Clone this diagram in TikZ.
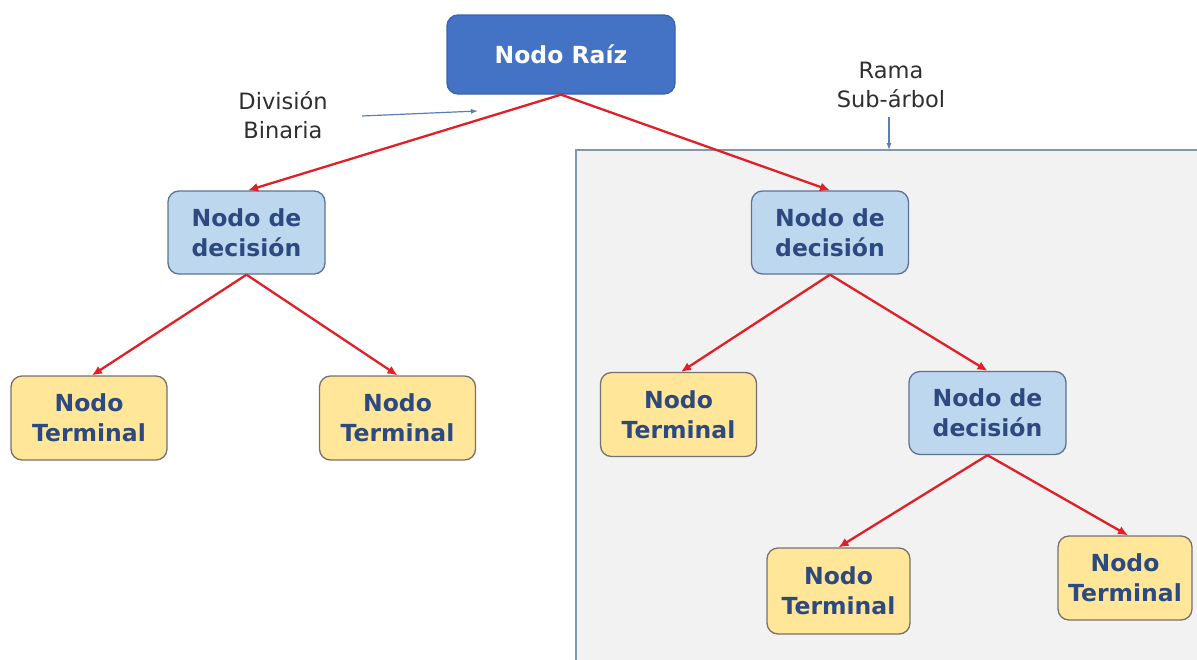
\documentclass[tikz,border=0pt]{standalone}
\usepackage{fontspec}
\setmainfont{DejaVu Sans}
\usetikzlibrary{arrows.meta}
\definecolor{rootfill}{HTML}{4472C4}
\definecolor{rootline}{HTML}{3A62AE}
\definecolor{decfill}{HTML}{BDD7EE}
\definecolor{decline}{HTML}{5F7391}
\definecolor{termfill}{HTML}{FFE699}
\definecolor{termline}{HTML}{767171}
\definecolor{nodetext}{HTML}{2C4A80}
\definecolor{linkred}{HTML}{E01F26}
\definecolor{notearrow}{HTML}{5B7DB8}
\definecolor{panelfill}{HTML}{F2F2F2}
\definecolor{panelline}{HTML}{8497B0}
\tikzset{
  x=1pt, y=-1pt,
  box/.style={rounded corners=11pt, line width=1.3pt, align=center,
    font=\bfseries\fontsize{23.5}{30}\selectfont, inner sep=0pt},
  rootbox/.style={box, fill=rootfill, draw=rootline, text=white,
    minimum width=228pt, minimum height=79pt},
  decbox/.style={box, fill=decfill, draw=decline, text=nodetext,
    minimum width=157pt, minimum height=83pt},
  termbox/.style={box, fill=termfill, draw=termline, text=nodetext,
    minimum width=156pt, minimum height=84pt},
  link/.style={draw=linkred, line width=2.3pt, -{Latex[length=10pt,width=9pt]}},
  note/.style={font=\fontsize{22.5}{29}\selectfont, text=black!82, align=center},
  notelink/.style={draw=notearrow, line width=1.2pt, -{Latex[length=7pt,width=5pt]}}
}
\begin{document}
\begin{tikzpicture}
\useasboundingbox (0,0) rectangle (1197,659);
% shaded sub-tree panel
\fill[panelfill] (576,150) rectangle (1200,662);
\draw[panelline, line width=1.2pt] (576,662) -- (576,150) -- (1200,150);

% nodes
\node[rootbox] (root) at (561,54.5) {Nodo Raíz};
\node[decbox] (decL) at (246.5,232.5) {Nodo de\\decisión};
\node[decbox] (decR) at (830,232.5) {Nodo de\\decisión};
\node[termbox] (tL1) at (89,418) {Nodo\\Terminal};
\node[termbox] (tL2) at (397.5,418) {Nodo\\Terminal};
\node[termbox] (tR1) at (678.5,414.5) {Nodo\\Terminal};
\node[decbox] (decR2) at (987.5,413) {Nodo de\\decisión};
\node[termbox, minimum width=143pt, minimum height=86pt] (tR2a) at (838.5,591) {Nodo\\Terminal};
\node[termbox, minimum width=134pt, minimum height=84pt] (tR2b) at (1125,578) {Nodo\\Terminal};

% annotations
\node[note] (split) at (283,115) {División\\Binaria};
\node[note] (branch) at (891,85) {Rama\\Sub-árbol};
\coordinate (splitA) at (362,116);
\coordinate (splitB) at (478,111);
\draw[notelink] (splitA) -- (splitB);
\coordinate (branchA) at (889,117);
\draw[notelink] (branchA) -- (889,150);

% tree links
\draw[link] (root.south) -- ([xshift=1.5pt]decL.north);
\draw[link] (root.south) -- (decR.north);
\draw[link] (decL.south) -- ([xshift=3pt]tL1.north);
\draw[link] (decL.south) -- (tL2.north);
\draw[link] (decR.south) -- ([xshift=2.5pt]tR1.north);
\draw[link] (decR.south) -- (decR2.north);
\draw[link] (decR2.south) -- (tR2a.north);
\draw[link] (decR2.south) -- ([xshift=3pt]tR2b.north);
\end{tikzpicture}
\end{document}
